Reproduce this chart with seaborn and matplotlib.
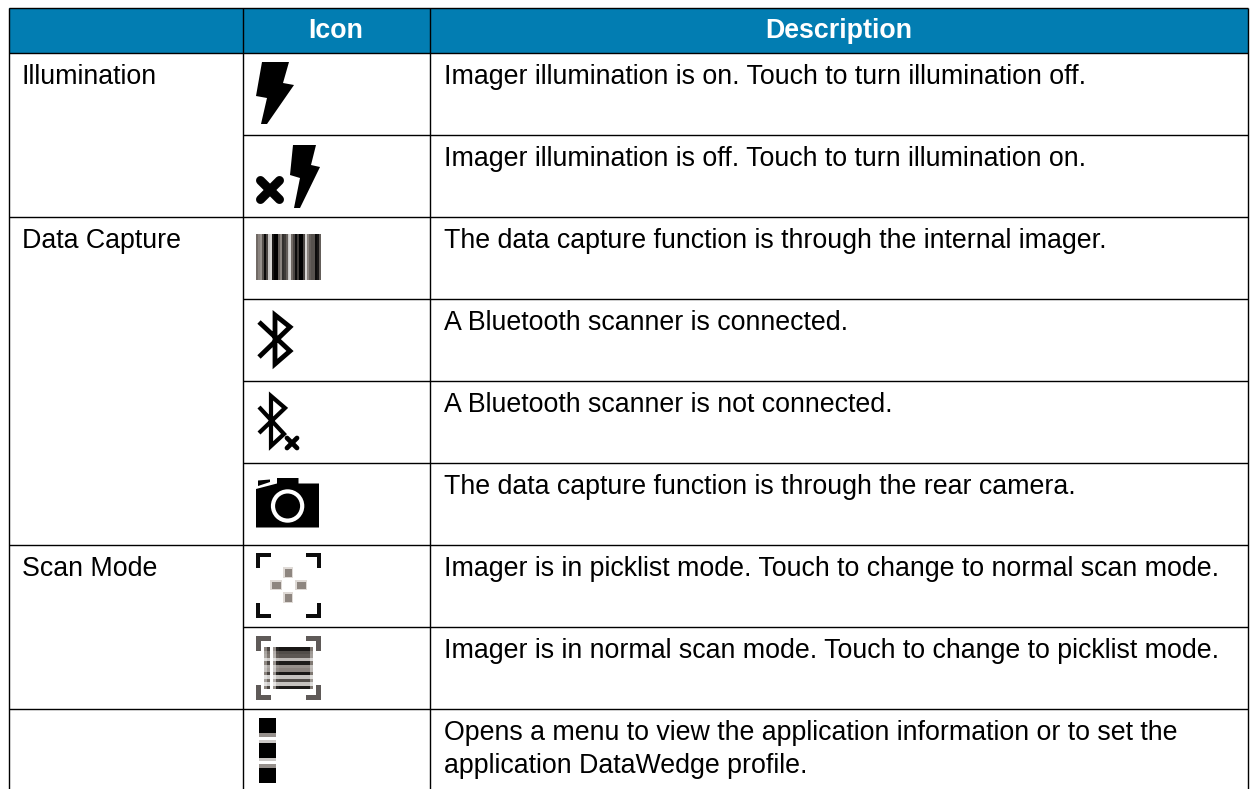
"""Recreate the status icon table: text, rules and icons drawn in pixel space."""

import matplotlib

matplotlib.use("Agg")

import matplotlib.pyplot as plt
import numpy as np
import seaborn as sns
from matplotlib.patches import Circle, Polygon, Rectangle

W, H = 1252, 789

headers = ["", "Icon", "Description"]
groups = ["Illumination", "Data Capture", "Scan Mode", ""]
group_rows = [0, 2, 6, 8]
descriptions = [
    "Imager illumination is on. Touch to turn illumination off.",
    "Imager illumination is off. Touch to turn illumination on.",
    "The data capture function is through the internal imager.",
    "A Bluetooth scanner is connected.",
    "A Bluetooth scanner is not connected.",
    "The data capture function is through the rear camera.",
    "Imager is in picklist mode. Touch to change to normal scan mode.",
    "Imager is in normal scan mode. Touch to change to picklist mode.",
    "Opens a menu to view the application information or to set the\napplication DataWedge profile.",
]

barcode_levels = [
    0.45, 0.55, 0.6, 0.35, 0.05, 0.3, 0.8, 0.85, 0.1, 0.0, 0.0,
    0.4, 0.55, 0.2, 0.25, 0.4, 0.8, 0.85, 0.45, 0.3, 0.05, 0.25,
    0.0, 0.0, 0.3, 0.85, 0.55, 0.4, 0.35, 0.35, 0.05, 0.1, 0.4,
]
scan_rows = [0.0, 0.25, 0.3, 0.72, 0.02, 0.55, 0.5, 0.0, 0.75, 0.25, 0.75, 0.02]
scan_cols = [0.55, 0.3, 1.0, 0.6, 0.15, 0.1, 0.1, 0.1, 0.1, 0.1, 0.1, 0.1, 0.1, 0.1, 0.1, 0.5]
menu_levels = [0.0] * 5 + [0.6, 1.0, 0.8] + [0.0] * 5 + [0.8, 1.0, 0.6] + [0.0] * 5

BLUE = "#027db2"
INK = "#000000"
LEFT, COL1, COL2, RIGHT = 8.5, 242.5, 429.5, 1248
TOP, HEAD_BOTTOM, ROW_H = 7.5, 53.2, 82.0
FONT = "Liberation Sans"
BODY_SIZE = 19.26
LINE_STEP = 33

GREY_CMAP = sns.blend_palette(["#000000", "#7d7670", "#ffffff"], as_cmap=True)


def px(n):
    """Pixels to points at dpi 100."""
    return n * 0.72


def row_top(i):
    return HEAD_BOTTOM + i * ROW_H


def stroke(ax, xs, ys, width, color=INK, cap="round"):
    ax.plot(xs, ys, color=color, lw=px(width), solid_capstyle=cap, solid_joinstyle="miter")


def pixel_icon(fig, values, x0, y0, x1, y1):
    """Put a small grey matrix on the figure with sns.heatmap."""
    inset = fig.add_axes([x0 / W, 1 - y1 / H, (x1 - x0) / W, (y1 - y0) / H])
    sns.heatmap(
        np.atleast_2d(values),
        ax=inset,
        cmap=GREY_CMAP,
        vmin=0,
        vmax=1,
        cbar=False,
        xticklabels=False,
        yticklabels=False,
    )
    return inset


def draw_x(ax, cx, cy, half, width):
    stroke(ax, [cx - half, cx + half], [cy - half, cy + half], width)
    stroke(ax, [cx - half, cx + half], [cy + half, cy - half], width)


def draw_corners(ax, x0, y0, x1, y1, arm, width, color):
    for cx, sx in ((x0, 1), (x1, -1)):
        for cy, sy in ((y0, 1), (y1, -1)):
            ax.add_patch(Rectangle((cx, cy), sx * arm, sy * width, color=color, lw=0))
            ax.add_patch(Rectangle((cx, cy), sx * width, sy * arm, color=color, lw=0))


def draw_bolts(ax):
    bolt = [(262, 62), (289, 62), (283, 83), (294, 85), (267, 124), (261, 124), (267, 98), (256, 96)]
    ax.add_patch(Polygon(bolt, color=INK, lw=0))
    off = [(293, 145), (316, 145), (311, 165), (320, 167), (300, 208), (294, 208), (300, 178), (290, 175)]
    ax.add_patch(Polygon(off, color=INK, lw=0))
    draw_x(ax, 270, 190, 9.5, 9)


def draw_bluetooth(ax):
    stroke(ax, [259, 290, 275, 275, 290, 259], [322, 351, 364, 315, 327, 357], 4.8, cap="butt")
    stroke(ax, [259, 284, 271, 271, 285, 259], [407, 434, 446, 396, 408, 433], 4.2, cap="butt")
    draw_x(ax, 292, 443, 5, 4.8)


def draw_camera(ax):
    body = [(256, 489), (277, 483.5), (277, 478), (298.5, 478), (298.5, 483.5), (319, 483.5), (319, 527.5), (256, 527.5)]
    ax.add_patch(Polygon(body, color=INK, lw=0))
    ax.add_patch(Polygon([(258, 480.5), (270, 479.5), (270, 482), (258, 486)], color=INK, lw=0))
    ax.add_patch(Circle((287.6, 506), 16.7, color="white", lw=0))
    ax.add_patch(Circle((287.6, 506), 12.5, color=INK, lw=0))


def draw_picklist(ax):
    draw_corners(ax, 256, 553, 321, 618, 15, 4, "#0c0c0c")
    for x, y, w, h in ((283, 567, 10, 11), (283, 592, 10, 11), (270, 580, 12, 10), (295, 580, 12, 10)):
        ax.add_patch(Rectangle((x, y), w, h, color="#dfdad6", lw=0))
        ax.add_patch(Rectangle((x + 1.5, y + 1.5), w - 3, h - 3, color="#8e8680", lw=0))


def main():
    sns.set_theme(style="white")
    plt.rcParams["font.family"] = [FONT, "DejaVu Sans"]

    fig = plt.figure(figsize=(W / 100, H / 100), dpi=100)
    ax = fig.add_axes([0, 0, 1, 1])
    ax.set_xlim(0, W)
    ax.set_ylim(H, 0)
    ax.axis("off")

    ax.add_patch(Rectangle((LEFT, TOP), RIGHT - LEFT, HEAD_BOTTOM - TOP, color=BLUE, lw=0))

    # rules: group rows span all columns, the rest start at the icon column
    rule = dict(color=INK, lw=px(1.4), solid_capstyle="butt")
    ax.plot([LEFT, RIGHT], [TOP, TOP], **rule)
    for i in range(len(descriptions)):
        start = LEFT if i in group_rows else COL1
        ax.plot([start, RIGHT], [row_top(i), row_top(i)], **rule)
    for x in (LEFT, COL1, COL2, RIGHT):
        ax.plot([x, x], [TOP, H], **rule)

    centers = [(LEFT + COL1) / 2, (COL1 + COL2) / 2, (COL2 + RIGHT) / 2]
    for x, label in zip(centers, headers):
        ax.text(x, 38, label, color="white", fontsize=19.3, fontweight="bold", ha="center", va="baseline")

    for row, label in zip(group_rows, groups):
        ax.text(22, row_top(row) + 31, label, color=INK, fontsize=BODY_SIZE, va="baseline")
    for i, text in enumerate(descriptions):
        for k, line in enumerate(text.split("\n")):
            ax.text(444, row_top(i) + 31 + k * LINE_STEP, line, color=INK, fontsize=BODY_SIZE, va="baseline")

    draw_bolts(ax)
    draw_bluetooth(ax)
    draw_camera(ax)
    draw_picklist(ax)
    draw_corners(ax, 256, 636, 321, 700, 15, 5, "#5f5a58")

    pixel_icon(fig, barcode_levels, 256, 234, 321, 280)
    ink = 1 - np.array(scan_cols)
    pixel_icon(fig, 1 - np.outer(1 - np.array(scan_rows), ink), 264, 647, 313, 689)
    pixel_icon(fig, np.array(menu_levels).reshape(-1, 1), 259, 718, 276, 783)

    fig.savefig("out.png", dpi=100)
    plt.close(fig)


if __name__ == "__main__":
    main()
